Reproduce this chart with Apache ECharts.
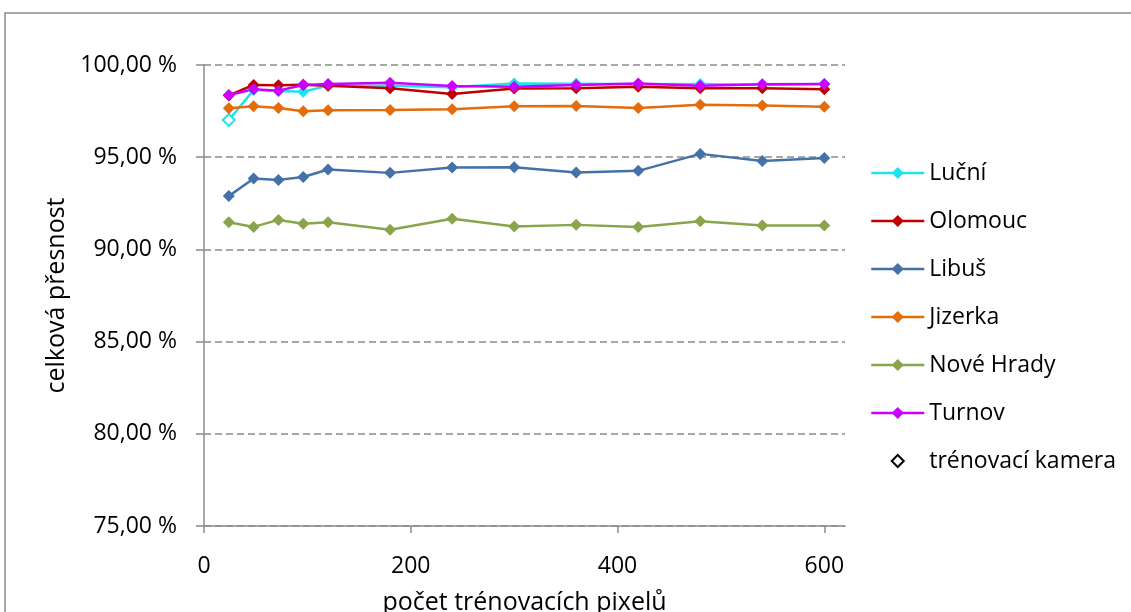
<!DOCTYPE html>
<html>
<head>
<meta charset="utf-8">
<script src="https://cdn.jsdelivr.net/npm/echarts@6/dist/echarts.min.js"></script>
<style>
html,body{margin:0;padding:0;background:#fff;}
#chart{width:1131px;height:612px;}
</style>
</head>
<body>
<div id="chart"></div>
<script>
var xValues = [24, 48, 72, 96, 120, 180, 240, 300, 360, 420, 480, 540, 600];
var lucni   = [97.02, 98.64, 98.59, 98.55, 98.88, 98.88, 98.80, 99.00, 98.98, 98.95, 98.97, 98.92, 98.97];
var olomouc = [98.35, 98.92, 98.90, 98.93, 98.88, 98.74, 98.43, 98.72, 98.74, 98.82, 98.74, 98.74, 98.68];
var libus   = [92.89, 93.84, 93.77, 93.93, 94.33, 94.15, 94.44, 94.45, 94.17, 94.26, 95.18, 94.80, 94.95];
var jizerka = [97.65, 97.76, 97.67, 97.49, 97.54, 97.56, 97.60, 97.76, 97.78, 97.67, 97.85, 97.81, 97.74];
var noveHrady = [91.47, 91.22, 91.60, 91.39, 91.47, 91.06, 91.66, 91.24, 91.33, 91.22, 91.53, 91.30, 91.30];
var turnov  = [98.37, 98.68, 98.61, 98.92, 98.97, 99.04, 98.86, 98.82, 98.92, 99.00, 98.88, 98.95, 98.97];
var trainingIndex = { 'Luční': [0] };
var xTicks = [0, 200, 400, 600];

var FONT = 'Open Sans';
var chart = echarts.init(document.getElementById('chart'));

function mk(name, vals, color) {
  var hollow = trainingIndex[name] || [];
  return {
    name: name,
    type: 'line',
    data: vals.map(function (v, i) {
      var d = { value: [xValues[i], v] };
      if (hollow.indexOf(i) >= 0) {
        d.itemStyle = { color: '#ffffff', borderColor: color, borderWidth: 2 };
      }
      return d;
    }),
    symbol: 'diamond',
    symbolSize: 12,
    showAllSymbol: true,
    lineStyle: { color: color, width: 2.5 },
    itemStyle: { color: color },
    emphasis: { disabled: true },
    animation: false
  };
}

var series = [
  mk('Luční', lucni, '#1EE3EC'),
  mk('Olomouc', olomouc, '#C00000'),
  mk('Libuš', libus, '#4472A8'),
  mk('Jizerka', jizerka, '#E46C0A'),
  mk('Nové Hrady', noveHrady, '#88A54B'),
  mk('Turnov', turnov, '#CC00FF'),
  {
    name: 'trénovací kamera',
    type: 'line',
    data: [],
    symbol: 'diamond',
    symbolSize: 12,
    lineStyle: { opacity: 0, width: 0 },
    itemStyle: { color: '#ffffff', borderColor: '#000000', borderWidth: 1.5 },
    animation: false
  }
];

var legendData = series.map(function (s) {
  if (s.name === 'trénovací kamera') {
    return { name: s.name, lineStyle: { opacity: 0, width: 0 } };
  }
  return { name: s.name };
});

chart.setOption({
  animation: false,
  backgroundColor: '#ffffff',
  graphic: [{
    type: 'rect',
    shape: { x: 5, y: 13, width: 1200, height: 700 },
    style: { fill: 'none', stroke: '#8c8c8c', lineWidth: 1.5 },
    silent: true
  }],
  grid: { left: 204, right: 286, top: 65, bottom: 86, containLabel: false, outerBoundsMode: 'none' },
  legend: {
    orient: 'vertical',
    left: 870,
    top: 161,
    padding: 0,
    itemWidth: 53,
    itemHeight: 15,
    itemGap: 24,
    lineStyle: { width: 2.5 },
    textStyle: { fontFamily: FONT, fontSize: 23, lineHeight: 24, color: '#000' },
    data: legendData
  },
  xAxis: {
    type: 'value',
    min: 0,
    max: 620,
    interval: 200,
    name: 'počet trénovacích pixelů',
    nameLocation: 'middle',
    nameGap: 64,
    nameTextStyle: { fontFamily: FONT, fontSize: 25, color: '#000' },
    axisLine: { show: true, lineStyle: { color: '#8c8c8c', width: 1.5 } },
    axisTick: { show: true, length: 7, customValues: xTicks, lineStyle: { color: '#8c8c8c', width: 1.5 } },
    axisLabel: { customValues: xTicks, margin: 29, fontFamily: FONT, fontSize: 23, color: '#000' },
    splitLine: { show: false }
  },
  yAxis: {
    type: 'value',
    min: 75,
    max: 100,
    interval: 5,
    name: 'celková přesnost',
    nameLocation: 'middle',
    nameGap: 127,
    nameTextStyle: { fontFamily: FONT, fontSize: 25, color: '#000' },
    axisLine: { show: true, lineStyle: { color: '#8c8c8c', width: 1.5 } },
    axisTick: { show: true, length: 8, lineStyle: { color: '#8c8c8c', width: 1.5 } },
    axisLabel: {
      margin: 27,
      fontFamily: FONT,
      fontSize: 23,
      color: '#000',
      formatter: function (v) { return v.toFixed(2).replace('.', ',') + ' %'; }
    },
    splitLine: { show: true, lineStyle: { color: '#8c8c8c', width: 1.5, type: [7, 4] } }
  },
  series: series
});
</script>
</body>
</html>
